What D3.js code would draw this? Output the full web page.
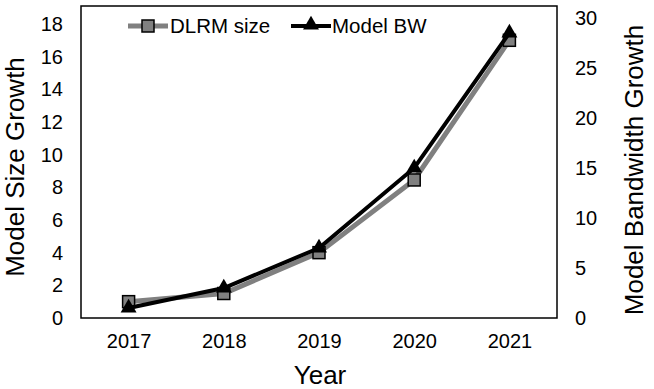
<!DOCTYPE html>
<html>
<head>
<meta charset="utf-8">
<script src="https://cdn.jsdelivr.net/npm/d3@7"></script>
<style>
  body { margin: 0; background: #fff; }
  text { font-family: "Liberation Sans", Arial, sans-serif; fill: #000; }
</style>
</head>
<body>
<svg id="chart"></svg>
<script>
const years = ["2017", "2018", "2019", "2020", "2021"];
const dlrmSize = [1.0, 1.5, 4.0, 8.45, 17.0];     // left axis
const modelBW = [1.0, 3.0, 7.0, 15.0, 28.5];      // right axis
const leftTicks = [0, 2, 4, 6, 8, 10, 12, 14, 16, 18];
const rightTicks = [0, 5, 10, 15, 20, 25, 30];

const width = 654, height = 389;
const margin = { top: 6, right: 97, bottom: 71, left: 81 };

const svg = d3.select("#chart").attr("width", width).attr("height", height);

const x = d3.scalePoint().domain(years).range([margin.left, width - margin.right]).padding(0.5);
const yL = d3.scaleLinear().domain([0, 19.1]).range([height - margin.bottom, margin.top]);
const yR = d3.scaleLinear().domain([0, 31.2]).range([height - margin.bottom, margin.top]);

// plot frame
svg.append("rect")
    .attr("x", margin.left).attr("y", margin.top)
    .attr("width", width - margin.left - margin.right)
    .attr("height", height - margin.top - margin.bottom)
    .attr("fill", "none").attr("stroke", "#000").attr("stroke-width", 1.5);

// axes (labels only)
const axL = svg.append("g").attr("transform", `translate(${margin.left},0)`)
    .call(d3.axisLeft(yL).tickValues(leftTicks).tickSize(0).tickPadding(18));
const axR = svg.append("g").attr("transform", `translate(${width - margin.right},0)`)
    .call(d3.axisRight(yR).tickValues(rightTicks).tickSize(0).tickPadding(18));
const axB = svg.append("g").attr("transform", `translate(0,${height - margin.bottom})`)
    .call(d3.axisBottom(x).tickSize(0).tickPadding(16));
[axL, axR, axB].forEach(g => {
    g.select(".domain").remove();
    g.selectAll("text").attr("font-size", 20).attr("font-family", "Liberation Sans, Arial, sans-serif");
});

// axis titles
svg.append("text").attr("transform", "translate(24,167) rotate(-90)")
    .attr("text-anchor", "middle").attr("font-size", 26).text("Model Size Growth");
svg.append("text").attr("transform", "translate(643,170) rotate(-90)")
    .attr("text-anchor", "middle").attr("font-size", 26).text("Model Bandwidth Growth");
svg.append("text").attr("x", 320).attr("y", 384)
    .attr("text-anchor", "middle").attr("font-size", 26).text("Year");

const tri = d3.symbol().type(d3.symbolTriangle).size(110);

// DLRM size series
svg.append("path").datum(dlrmSize)
    .attr("fill", "none").attr("stroke", "#808080").attr("stroke-width", 5)
    .attr("d", d3.line().x((d, i) => x(years[i])).y(d => yL(d)));
svg.selectAll(".sq").data(dlrmSize).join("rect").attr("class", "sq")
    .attr("x", (d, i) => x(years[i]) - 6).attr("y", d => yL(d) - 6)
    .attr("width", 12).attr("height", 12)
    .attr("fill", "#808080").attr("stroke", "#000").attr("stroke-width", 1.5);

// Model BW series
svg.append("path").datum(modelBW)
    .attr("fill", "none").attr("stroke", "#000").attr("stroke-width", 4)
    .attr("d", d3.line().x((d, i) => x(years[i])).y(d => yR(d)));
svg.selectAll(".tri").data(modelBW).join("path").attr("class", "tri")
    .attr("transform", (d, i) => `translate(${x(years[i])},${yR(d)})`)
    .attr("d", tri).attr("fill", "#000");

// legend
const lg = svg.append("g");
lg.append("line").attr("x1", 128).attr("x2", 168).attr("y1", 26).attr("y2", 26)
    .attr("stroke", "#808080").attr("stroke-width", 5);
lg.append("rect").attr("x", 142).attr("y", 20).attr("width", 12).attr("height", 12)
    .attr("fill", "#808080").attr("stroke", "#000").attr("stroke-width", 1.5);
lg.append("text").attr("x", 170).attr("y", 33).attr("font-size", 20.5).text("DLRM size");
lg.append("line").attr("x1", 291).attr("x2", 331).attr("y1", 26).attr("y2", 26)
    .attr("stroke", "#000").attr("stroke-width", 4);
lg.append("path").attr("transform", "translate(311,25)").attr("d", tri).attr("fill", "#000");
lg.append("text").attr("x", 332).attr("y", 33).attr("font-size", 20.5).text("Model BW");
</script>
</body>
</html>
